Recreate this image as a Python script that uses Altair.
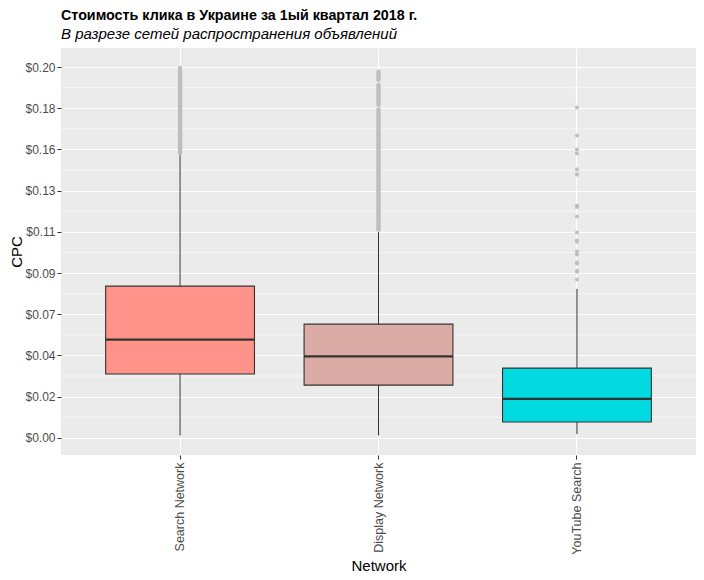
import altair as alt
import pandas as pd

# ---- data ----
networks = ["Search Network", "Display Network", "YouTube Search"]
fills = ["#FF9289", "#DBACA5", "#00DAE0"]
whisker_low = [0.0012, 0.0012, 0.0020]
q1 = [0.0344, 0.0284, 0.0085]
median = [0.0530, 0.0439, 0.0210]
q3 = [0.0818, 0.0613, 0.0376]
whisker_high = [0.1525, 0.1110, 0.0804]

# dense outlier columns (continuous runs of overlapping points)
dense_network = ["Search Network", "Display Network", "Display Network", "Display Network"]
dense_start = [0.1535, 0.1123, 0.1797, 0.1932]
dense_end = [0.1995, 0.1772, 0.1904, 0.1975]

# individual outliers (YouTube Search)
yt_outliers = [0.1782, 0.1631, 0.1555, 0.1534, 0.1448, 0.1421, 0.1252, 0.1245,
               0.1194, 0.1108, 0.1065, 0.1057, 0.1005, 0.0989, 0.0946, 0.0940,
               0.0901, 0.0896, 0.0854]

y_breaks = [i * 0.2 / 9 for i in range(10)]
y_minor = [(y_breaks[i] + y_breaks[i + 1]) / 2 for i in range(9)]

stats = pd.DataFrame({
    "Network": networks, "lo": whisker_low, "q1": q1, "med": median,
    "q3": q3, "hi": whisker_high,
})
dense = pd.DataFrame({"Network": dense_network, "s": dense_start, "e": dense_end})
outl = pd.DataFrame({"Network": ["YouTube Search"] * len(yt_outliers), "v": yt_outliers})
minor = pd.DataFrame({"m": y_minor})

W, H = 635, 407
step = W / 3.2

xscale = alt.Scale(domain=networks, paddingInner=0.25, paddingOuter=0.225)
yscale = alt.Scale(domain=[-0.0093, 0.2103], nice=False, zero=False)

x_enc = alt.X("Network:N", scale=xscale, sort=networks,
              axis=alt.Axis(title="Network", labelAngle=-90, labelFontSize=12.5,
                            labelColor="#4D4D4D", titleFontSize=15,
                            titleFontWeight="normal", titleColor="#000000",
                            tickColor="#333333", tickSize=4, labelPadding=3,
                            titlePadding=4, grid=True, gridColor="#FFFFFF",
                            gridWidth=1.1, bandPosition=0.5, domain=False))

y_axis = alt.Axis(title="CPC", values=y_breaks,
                  labelExpr="'$' + format(datum.value, '.2f')",
                  labelFontSize=12, labelColor="#4D4D4D", titleFontSize=15,
                  titleFontWeight="normal", titleColor="#000000",
                  tickColor="#333333", tickSize=4, labelPadding=2,
                  titlePadding=0, grid=True, gridColor="#FFFFFF",
                  gridWidth=1.1, domain=False)

minor_grid = alt.Chart(minor).mark_rule(color="#FFFFFF", strokeWidth=0.55).encode(
    y=alt.Y("m:Q", scale=yscale, axis=y_axis)
)

whiskers = alt.Chart(stats).mark_rule(color="#333333", strokeWidth=1).encode(
    x=x_enc,
    y=alt.Y("lo:Q", scale=yscale),
    y2="hi:Q",
)

boxes = alt.Chart(stats).mark_bar(stroke="#333333", strokeWidth=1.1).encode(
    x=x_enc,
    y=alt.Y("q1:Q", scale=yscale),
    y2="q3:Q",
    color=alt.Color("Network:N", scale=alt.Scale(domain=networks, range=fills),
                    legend=None),
)

medians = alt.Chart(stats).mark_tick(color="#333333", thickness=2.2,
                                     size=step * 0.75, opacity=1).encode(
    x=x_enc,
    y=alt.Y("med:Q", scale=yscale),
)

dense_cols = alt.Chart(dense).mark_rule(color="#BEBEBE", strokeWidth=4.4,
                                        strokeCap="round").encode(
    x=x_enc,
    y=alt.Y("s:Q", scale=yscale),
    y2="e:Q",
)

points = alt.Chart(outl).mark_circle(color="#BEBEBE", size=16, opacity=1).encode(
    x=x_enc,
    y=alt.Y("v:Q", scale=yscale),
)

chart = alt.layer(minor_grid, whiskers, boxes, medians, dense_cols, points).properties(
    width=W, height=H,
    autosize=alt.AutoSizeParams(type="none"),
    padding={"left": 53, "top": 40, "right": 0, "bottom": 121},
    title=alt.TitleParams(
        text="Стоимость клика в Украине за 1ый квартал 2018 г.",
        subtitle="В разрезе сетей распространения объявлений",
        anchor="start", frame="group", font="Liberation Sans",
        fontSize=14.3, fontWeight="bold", color="#000000",
        subtitleFont="Liberation Sans", subtitleFontSize=15,
        subtitleFontStyle="italic", subtitleColor="#000000",
        subtitlePadding=4, offset=6,
    ),
).configure(
    font="Liberation Sans", background="#FFFFFF"
).configure_view(
    fill="#EBEBEB", stroke=None
).configure_axis(
    labelFont="Liberation Sans", titleFont="Liberation Sans"
)

chart.save("out.html", embed_options={"renderer": "svg", "actions": False})
